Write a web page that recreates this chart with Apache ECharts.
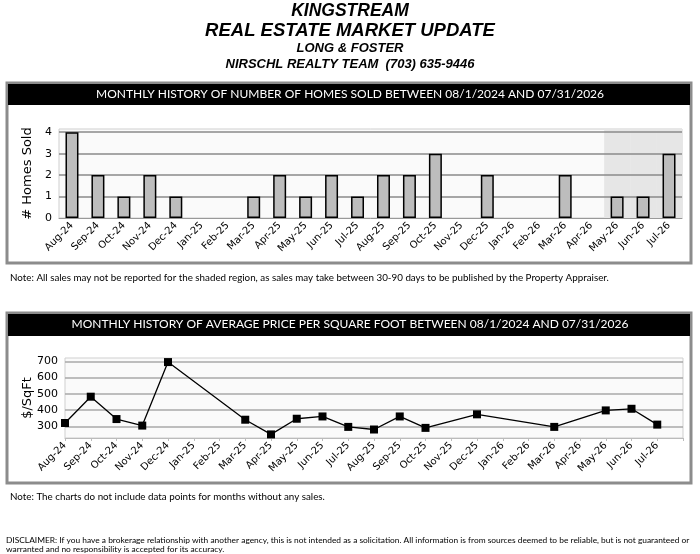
<!DOCTYPE html>
<html>
<head>
<meta charset="utf-8">
<title>Kingstream Real Estate Market Update</title>
<script src="https://cdn.jsdelivr.net/npm/echarts@6/dist/echarts.min.js"></script>
<style>
    html, body { margin: 0; padding: 0; background: #fff; }
    #main { width: 700px; height: 554px; }
</style>
</head>
<body>
<div id="main"></div>
<script type="text/javascript">
    // 数据
    var months = ['Aug-24', 'Sep-24', 'Oct-24', 'Nov-24', 'Dec-24', 'Jan-25', 'Feb-25', 'Mar-25',
        'Apr-25', 'May-25', 'Jun-25', 'Jul-25', 'Aug-25', 'Sep-25', 'Oct-25', 'Nov-25',
        'Dec-25', 'Jan-26', 'Feb-26', 'Mar-26', 'Apr-26', 'May-26', 'Jun-26', 'Jul-26'];
    var homesSold = [4, 2, 1, 2, 1, 0, 0, 1, 2, 1, 2, 1, 2, 2, 3, 0, 2, 0, 0, 2, 0, 1, 1, 3];
    var pricePerSqft = [322, 483, 346, 306, 695, null, null, 342, 252, 348, 362, 298,
        282, 362, 292, null, 375, null, null, 298, null, 399, 409, 312];
    var shadedMonths = ['May-26', 'Jun-26', 'Jul-26'];

    // 坐标轴范围（Excel 自动范围）
    var soldMax = 4.15, soldStep = 1;
    var priceMin = 230, priceMax = 720, priceStep = 100, priceFine = 10;

    var labelFont = 'DejaVu Sans';
    var noteFont = 'Lato';
    var clear = 'rgba(0,0,0,0)';

    // 阴影区域（最近几个月）
    var shade = months.map(function (m) {
        return shadedMonths.indexOf(m) >= 0 ? soldMax : null;
    });
    // 0 的柱子不画边框
    var soldData = homesSold.map(function (v) {
        return v === 0 ? { value: v, itemStyle: { borderWidth: 0 } } : v;
    });
    // 销量网格线：0 与顶部不画
    var soldLineColors = [clear];
    for (var s = soldStep; s < soldMax; s += soldStep) soldLineColors.push('#8a8a8a');
    soldLineColors.push(clear);
    // 价格网格线只在 100 的整数倍处显示
    var priceLineColors = [];
    for (var i = 0; i < priceStep / priceFine; i++) {
        priceLineColors.push((priceMin + i * priceFine) % priceStep === 0 ? '#a8a8a8' : clear);
    }

    var myChart = echarts.init(document.getElementById('main'));

    var headStyle = { fontFamily: 'Liberation Sans', fontStyle: 'italic', fontWeight: 'bold', color: '#000' };

    var option = {
        backgroundColor: '#fff',
        animation: false,
        title: [
            { text: 'KINGSTREAM', left: 'center', top: 2, padding: 0,
              textStyle: Object.assign({ fontSize: 17.5 }, headStyle) },
            { text: 'REAL ESTATE MARKET UPDATE', left: 'center', top: 21, padding: 0,
              textStyle: Object.assign({ fontSize: 18.5 }, headStyle) },
            { text: 'LONG & FOSTER', left: 'center', top: 42, padding: 0,
              textStyle: Object.assign({ fontSize: 13 }, headStyle) },
            { text: 'NIRSCHL REALTY TEAM  (703) 635-9446', left: 'center', top: 58, padding: 0,
              textStyle: Object.assign({ fontSize: 13 }, headStyle) },
            { text: 'MONTHLY HISTORY OF NUMBER OF HOMES SOLD BETWEEN 08/1/2024 AND 07/31/2026', left: 'center', top: 88, padding: 0,
              textStyle: { fontFamily: noteFont, fontWeight: 'normal', fontSize: 12, color: '#fff' } },
            { text: 'MONTHLY HISTORY OF AVERAGE PRICE PER SQUARE FOOT BETWEEN 08/1/2024 AND 07/31/2026', left: 'center', top: 318, padding: 0,
              textStyle: { fontFamily: noteFont, fontWeight: 'normal', fontSize: 12, color: '#fff' } },
            { text: 'Note: All sales may not be reported for the shaded region, as sales may take between 30-90 days to be published by the Property Appraiser.',
              left: 10, top: 273, padding: 0, textStyle: { fontFamily: noteFont, fontWeight: 'normal', fontSize: 9.8, color: '#000' } },
            { text: 'Note: The charts do not include data points for months without any sales.',
              left: 10, top: 492, padding: 0, textStyle: { fontFamily: noteFont, fontWeight: 'normal', fontSize: 9.8, color: '#000' } },
            { text: 'DISCLAIMER: If you have a brokerage relationship with another agency, this is not intended as a solicitation. All information is from sources deemed to be reliable, but is not guaranteed or\nwarranted and no responsibility is accepted for its accuracy.',
              left: 6, top: 536, padding: 0, textStyle: { fontFamily: noteFont, fontWeight: 'normal', fontSize: 8.4, lineHeight: 9, color: '#000' } }
        ],
        graphic: [
            { type: 'rect', z: -10, shape: { x: 7, y: 83, width: 684, height: 180 },
              style: { fill: '#fff', stroke: '#8c8c8c', lineWidth: 3 } },
            { type: 'rect', z: -9, shape: { x: 8, y: 84, width: 682, height: 21 },
              style: { fill: '#000' } },
            { type: 'rect', z: -10, shape: { x: 7, y: 313, width: 684, height: 170 },
              style: { fill: '#fff', stroke: '#8c8c8c', lineWidth: 3 } },
            { type: 'rect', z: -9, shape: { x: 8, y: 314, width: 682, height: 22 },
              style: { fill: '#000' } }
        ],
        grid: [
            { left: 59, right: 18, top: 129, bottom: 336, show: true, z: 0,
              backgroundColor: '#fafafa', borderColor: '#cfcfcf', borderWidth: 1 },
            { left: 65, right: 17, top: 358, bottom: 116, show: true, z: 0,
              backgroundColor: '#fafafa', borderColor: '#cfcfcf', borderWidth: 1 }
        ],
        xAxis: [
            {
                gridIndex: 0, type: 'category', data: months, z: 4,
                axisLine: { lineStyle: { color: '#999' } },
                axisTick: { alignWithLabel: true, length: 3, lineStyle: { color: '#999' } },
                axisLabel: { rotate: 45, interval: 0, margin: 6, fontFamily: labelFont, fontSize: 10, color: '#000' }
            },
            {
                gridIndex: 0, type: 'category', data: months, show: false
            },
            {
                gridIndex: 1, type: 'category', data: months.concat(['']), boundaryGap: false,
                axisLine: { lineStyle: { color: '#bbb' } },
                axisTick: { length: 3, lineStyle: { color: '#bbb' } },
                axisLabel: { rotate: 45, interval: 0, margin: 6, fontFamily: labelFont, fontSize: 10, color: '#000' }
            }
        ],
        yAxis: [
            {
                gridIndex: 0, type: 'value', min: 0, max: soldMax, interval: soldStep, z: 2,
                name: '# Homes Sold', nameLocation: 'middle', nameGap: 25, nameMoveOverlap: false,
                nameTextStyle: { fontFamily: labelFont, fontSize: 13, color: '#000' },
                axisLine: { show: false },
                axisTick: { show: false },
                axisLabel: {
                    fontFamily: labelFont, fontSize: 11, color: '#000', margin: 7,
                    formatter: function (v) { return v % soldStep === 0 ? String(v) : ''; }
                },
                splitLine: { show: true, lineStyle: { color: soldLineColors, width: 1.5 } }
            },
            {
                gridIndex: 1, type: 'value', min: priceMin, max: priceMax, interval: priceFine, z: 2,
                name: '$/SqFt', nameLocation: 'middle', nameGap: 31, nameMoveOverlap: false,
                nameTextStyle: { fontFamily: labelFont, fontSize: 13, color: '#000' },
                axisLine: { show: false },
                axisTick: { show: false },
                axisLabel: {
                    fontFamily: labelFont, fontSize: 11, color: '#000', margin: 7,
                    formatter: function (v) { return Math.round(v) % priceStep === 0 ? String(Math.round(v)) : ''; }
                },
                splitLine: { show: true, lineStyle: { color: priceLineColors, width: 1.5 } }
            }
        ],
        series: [
            {
                name: 'shade', type: 'bar', xAxisIndex: 1, yAxisIndex: 0, data: shade,
                barWidth: '100%', silent: true, z: 1,
                itemStyle: { color: '#e6e6e6' }
            },
            {
                name: 'Homes Sold', type: 'bar', xAxisIndex: 0, yAxisIndex: 0, data: soldData,
                barWidth: '50%', z: 3,
                itemStyle: { color: '#bdbdbd', borderColor: '#000', borderWidth: 1.5 }
            },
            {
                name: '$/SqFt', type: 'line', xAxisIndex: 2, yAxisIndex: 1, data: pricePerSqft,
                connectNulls: true, symbol: 'rect', symbolSize: 8, z: 3,
                lineStyle: { color: '#000', width: 1.3 },
                itemStyle: { color: '#000' }
            }
        ]
    };

    myChart.setOption(option);
</script>
</body>
</html>
